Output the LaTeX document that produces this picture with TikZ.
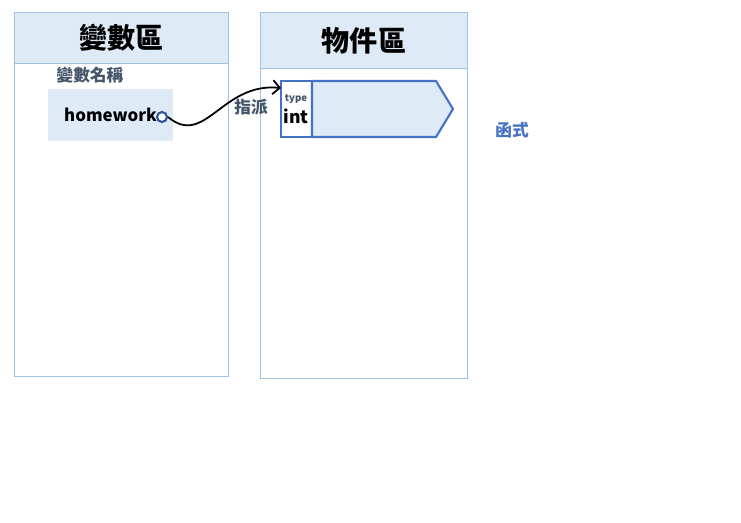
\documentclass[tikz,border=0pt]{standalone}
\usepackage{fontspec}
\setmainfont{Noto Sans CJK TC}
\usetikzlibrary{arrows.meta}
\definecolor{areafill}{HTML}{DEEBF7}
\definecolor{arealine}{HTML}{9DC3E6}
\definecolor{objline}{HTML}{4472C4}
\definecolor{labelgray}{HTML}{44546A}
\definecolor{dotline}{HTML}{2F5597}

\begin{document}
\begin{tikzpicture}[x=0.02cm, y=-0.02cm,
  area/.style={draw=arealine, line width=0.6pt, inner sep=0pt, anchor=north west},
  header/.style={area, fill=areafill, font=\bfseries\fontsize{16}{18}\selectfont},
  tag/.style={text=labelgray, inner sep=0pt, font=\bfseries\fontsize{9.5}{11}\selectfont},
  objbox/.style={draw=objline, line width=1.2pt, line join=miter}]
  \useasboundingbox (0,0) rectangle (741,522);

  % two areas
  \node[area, minimum width=4.28cm, minimum height=7.28cm] (varArea) at (14,12) {};
  \node[header, minimum width=4.28cm, minimum height=1.02cm] (varHead) at (14,12) {變數區};
  \node[area, minimum width=4.14cm, minimum height=7.32cm] (objArea) at (260,12) {};
  \node[header, minimum width=4.14cm, minimum height=1.12cm] (objHead) at (260,12) {物件區};

  % variable
  \node[tag] (nameTag) at (90,75) {變數名稱};
  \node[fill=areafill, minimum width=2.5cm, minimum height=1.04cm,
        font=\bfseries\fontsize{9.6}{12}\selectfont] (nameBox) at (110.5,115) {homework\hspace{5pt}};
  \node[circle, draw=dotline, fill=white, line width=1.2pt, inner sep=0pt,
        minimum size=0.2cm] (dot) at (162,117) {};

  % object
  \node[objbox, fill=white, outer sep=0pt, minimum width=0.62cm, minimum height=1.12cm] (typeCell) at (296.5,109) {};
  \draw[objbox, fill=areafill] (typeCell.north east) -- (436,81) -- (453,109)
    -- (436,137) -- (typeCell.south east) -- cycle;
  \node[tag, font=\bfseries\fontsize{5.5}{6}\selectfont] (typeTag) at (296,99) {type};
  \node[inner sep=0pt, font=\bfseries\fontsize{10}{12}\selectfont] (intTag) at (296,116) {int};

  \node[tag] (assignTag) at (251,107) {指派};
  \node[tag, text=objline] (funcTag) at (512,130) {函式};

  \draw[-{Straight Barb[length=4pt]}, line width=1pt] (dot.east)
    .. controls (205,148) and (222,82) .. ([yshift=-4pt]typeCell.north west);
\end{tikzpicture}
\end{document}
